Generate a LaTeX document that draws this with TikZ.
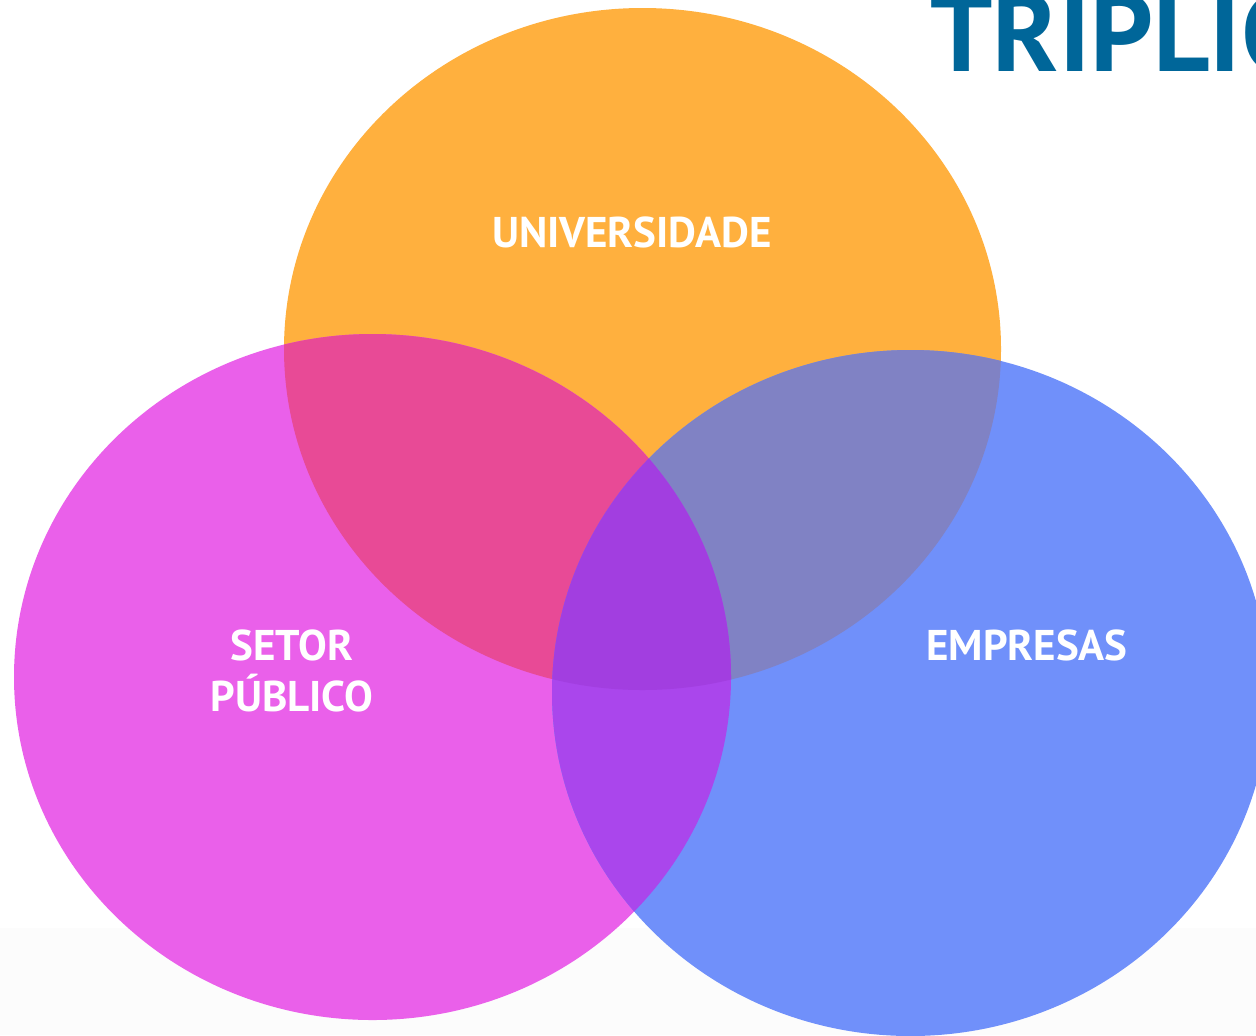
\documentclass[tikz,border=0pt]{standalone}
\usepackage{fontspec}
\setmainfont{PT Sans}
\definecolor{orangec}{RGB}{255,176,62}
\definecolor{magc}{RGB}{234,96,234}
\definecolor{bluec}{RGB}{112,144,250}
\definecolor{omc}{RGB}{232,74,150}
\definecolor{obc}{RGB}{128,130,196}
\definecolor{mbc}{RGB}{170,70,236}
\definecolor{ombc}{RGB}{162,62,224}
\definecolor{titlec}{RGB}{0,102,153}
\definecolor{bandc}{RGB}{252,252,252}
\tikzset{
  lbl/.style={text=white, font=\bfseries\fontsize{21.5}{25.5}\selectfont, align=center, inner sep=0pt},
  ttl/.style={text=titlec, font=\bfseries\fontsize{55}{60}\selectfont, inner sep=0pt, anchor=base west},
  orad/.style={x radius=179.25pt, y radius=170.5pt},
  crad/.style={x radius=179.25pt, y radius=171.5pt}
}
\begin{document}
\begin{tikzpicture}[x=0.5pt,y=-0.5pt]
\useasboundingbox (0,0) rectangle (1256,1035);
\clip (0,0) rectangle (1256,1035);
\fill[white] (0,0) rectangle (1256,1035);
\fill[bandc] (0,928) rectangle (1256,1035);
\coordinate (oc) at (642.5,349);
\coordinate (mc) at (372.5,677);
\coordinate (bc) at (910.5,693);
% solids
\fill[orangec] (oc) ellipse [orad];
\fill[magc] (mc) ellipse [crad];
\fill[bluec] (bc) ellipse [crad];
% pairwise
\begin{scope}
  \clip (oc) ellipse [orad];
  \fill[omc] (mc) ellipse [crad];
  \fill[obc] (bc) ellipse [crad];
\end{scope}
\begin{scope}
  \clip (mc) ellipse [crad];
  \fill[mbc] (bc) ellipse [crad];
  \clip (bc) ellipse [crad];
  \fill[ombc] (oc) ellipse [orad];
\end{scope}
% labels
\node[lbl] (uni) at (632,232) {UNIVERSIDADE};
\node[lbl] (set) at (292,671) {SETOR\\PÚBLICO};
\node[lbl] (emp) at (1027,645) {EMPRESAS};
\node[ttl] (ttl) at (930,71) {TRIPLIC};
\end{tikzpicture}
\end{document}
